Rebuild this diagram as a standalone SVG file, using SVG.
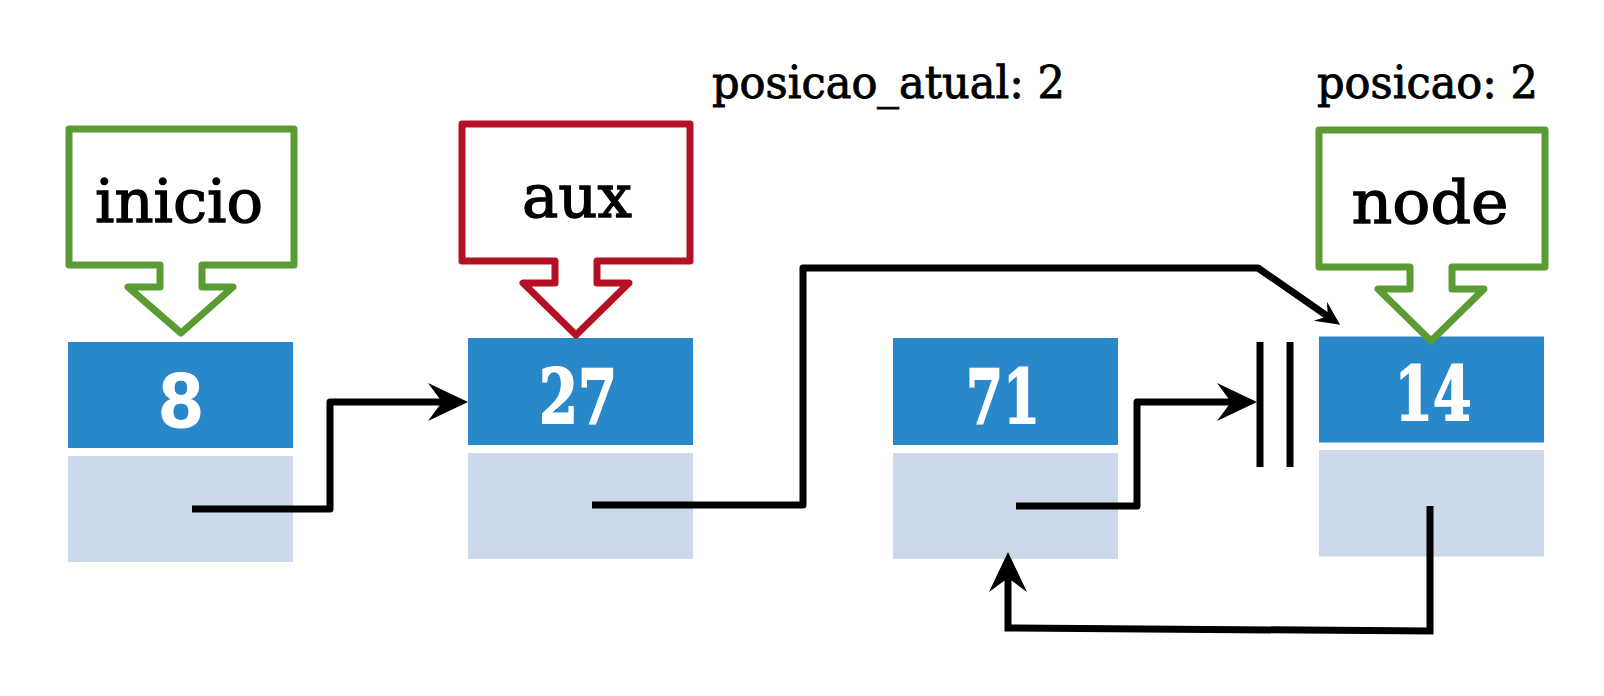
<svg xmlns="http://www.w3.org/2000/svg" width="1604" height="696" viewBox="0 0 1604 696">
<style>
.val{fill:#2888CA}
.ptr{fill:#CCD9EB}
.num{font-family:"DejaVu Serif","Liberation Serif",serif;font-weight:bold;font-size:75px;fill:#fff;stroke:#fff;stroke-width:2;text-anchor:middle}
.lbl{font-family:"DejaVu Serif","Liberation Serif",serif;font-size:60px;fill:#000;stroke:#000;stroke-width:1.3;text-anchor:middle}
.top{font-family:"DejaVu Serif","Liberation Serif",serif;font-size:44px;fill:#000;stroke:#000;stroke-width:0.9}
.call{fill:#fff;stroke-width:7;stroke-linejoin:round}
.green{stroke:#5B9B33}
.red{stroke:#B41224}
.wire{fill:none;stroke:#000;stroke-width:7;stroke-linejoin:round}
.bar{stroke:#000;stroke-width:7}
</style>
<defs>
<marker id="arr" markerUnits="userSpaceOnUse" markerWidth="44" markerHeight="44" viewBox="-42 -22 44 44" refX="-26" refY="0" orient="auto" overflow="visible">
<path d="M0,0 L-40,-19 L-26,0 L-40,19 Z" fill="#000"/>
</marker>
<marker id="arrs" markerUnits="userSpaceOnUse" markerWidth="30" markerHeight="30" viewBox="-27 -15 30 30" refX="-15" refY="0" orient="auto" overflow="visible">
<path d="M0,0 L-24,-11.5 L-15,0 L-24,11.5 Z" fill="#000"/>
</marker>
</defs>
<rect width="1604" height="696" fill="#fff"/>

<text class="top" x="712" y="98" textLength="353" lengthAdjust="spacingAndGlyphs">posicao_atual: 2</text>
<text class="top" x="1317" y="98" textLength="221" lengthAdjust="spacingAndGlyphs">posicao: 2</text>

<g id="node-8">
<rect class="val" x="68" y="342" width="225" height="106"/>
<rect class="ptr" x="68" y="456" width="225" height="106"/>
<text x="181" y="427" font-family="Liberation Sans, Arial, sans-serif" font-weight="bold" font-size="77" fill="#fff" stroke="#fff" stroke-width="1" text-anchor="middle">8</text>
</g>
<g id="node-27">
<rect class="val" x="468" y="338" width="225" height="107"/>
<rect class="ptr" x="468" y="453" width="225" height="106"/>
<text class="num" x="578" y="423" textLength="78" lengthAdjust="spacingAndGlyphs">27</text>
</g>
<g id="node-71">
<rect class="val" x="893" y="338" width="225" height="107"/>
<rect class="ptr" x="893" y="453" width="225" height="106"/>
<text class="num" x="1003" y="423" textLength="74" lengthAdjust="spacingAndGlyphs">71</text>
</g>
<g id="node-14">
<rect class="val" x="1319" y="336.5" width="225" height="106"/>
<rect class="ptr" x="1319" y="450" width="225" height="106.5"/>
<text class="num" x="1433" y="420" textLength="77" lengthAdjust="spacingAndGlyphs">14</text>
</g>

<g id="ptr-inicio">
<path class="call green" d="M69,129 H294 V265 H202 V287 H233 L181,333 L128,287 H160 V265 H69 Z"/>
<text class="lbl" x="179" y="222" textLength="168" lengthAdjust="spacingAndGlyphs">inicio</text>
</g>
<g id="ptr-aux">
<path class="call red" d="M462,124 H690 V261 H597 V283 H629 L576,335 L523,283 H555 V261 H462 Z"/>
<text class="lbl" x="577" y="217" textLength="110" lengthAdjust="spacingAndGlyphs">aux</text>
</g>
<g id="ptr-node">
<path class="call green" d="M1319,130 H1545 V267 H1452 V289 H1484 L1431,341 L1378,289 H1410 V267 H1319 Z"/>
<text class="lbl" x="1430" y="223" textLength="157" lengthAdjust="spacingAndGlyphs">node</text>
</g>

<g id="connectors">
<path class="wire" d="M192,509 H330 V402 H442" marker-end="url(#arr)"/>
<path class="wire" d="M592,505 H803 V268 H1258 L1327.8,316.3" marker-end="url(#arrs)"/>
<path class="wire" d="M1016,506 H1137 V402 H1231" marker-end="url(#arr)"/>
<path class="wire" style="stroke-linejoin:miter" d="M1430,506 V631 L1008,628 V578" marker-end="url(#arr)"/>
<line class="bar" x1="1260" y1="342" x2="1260" y2="467"/>
<line class="bar" x1="1290" y1="342" x2="1290" y2="467"/>
</g>
</svg>
